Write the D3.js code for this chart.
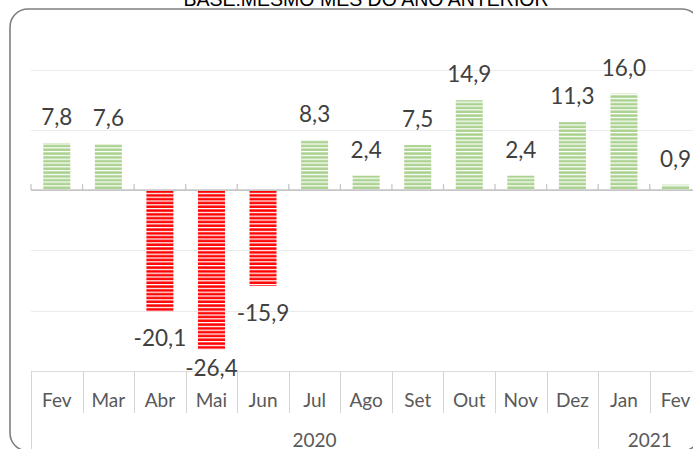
<!DOCTYPE html>
<html>
<head>
<meta charset="utf-8">
<script src="https://cdn.jsdelivr.net/npm/d3@7"></script>
<style>
  html, body { margin: 0; padding: 0; background: #ffffff; overflow: hidden; }
  svg { display: block; }
</style>
</head>
<body>
<svg id="chart" width="693" height="449"></svg>
<script>
// ---- data ----
const titleText = "BASE:MESMO MÊS DO ANO ANTERIOR";
const months = ["Fev", "Mar", "Abr", "Mai", "Jun", "Jul", "Ago", "Set", "Out", "Nov", "Dez", "Jan", "Fev"];
const values = [7.8, 7.6, -20.1, -26.4, -15.9, 8.3, 2.4, 7.5, 14.9, 2.4, 11.3, 16.0, 0.9];
const years = ["2020", "2021"];
const yearSpans = [[0, 10], [11, 12]];
const yTicks = [-30, -20, -10, 0, 10, 20];

// ---- layout ----
const W = 693, H = 449;
const plotLeft = 31, band = 51.56;
const plotRight = plotLeft + band * months.length;
const yTop = 69.5, yBottom = 371;

const svg = d3.select("#chart");
const ids = months.map((m, i) => i);

const x = d3.scaleBand().domain(ids).range([plotLeft, plotRight]).paddingInner(0).paddingOuter(0);
const y = d3.scaleLinear().domain([-30, 20]).range([yBottom, yTop]);

const loc = d3.formatLocale({decimal: ",", thousands: ".", grouping: [3], currency: ["", ""], minus: "-"});
const fmt = loc.format(".1f");

// patterns
const defs = svg.append("defs");
function stripe(id, color) {
  const p = defs.append("pattern").attr("id", id).attr("patternUnits", "userSpaceOnUse")
    .attr("width", 8).attr("height", 3.8);
  p.append("rect").attr("width", 8).attr("height", 3.8).attr("fill", "#ffffff");
  p.append("rect").attr("y", 0.3).attr("width", 8).attr("height", 2.5).attr("fill", color);
}
stripe("pGreen", "#a9d18e");
stripe("pRed", "#ff0000");

// title
svg.append("text").attr("x", 366).attr("y", 6).attr("text-anchor", "middle")
  .attr("font-family", "'Liberation Sans', Arial, sans-serif").attr("font-size", 19.5)
  .attr("fill", "#000000").text(titleText);

// border
svg.append("rect").attr("x", 10).attr("y", 9).attr("width", 690).attr("height", 442)
  .attr("rx", 18).attr("ry", 18).attr("fill", "none").attr("stroke", "#7f7f7f").attr("stroke-width", 1.6);

// gridlines
svg.append("g").selectAll("line").data(yTicks.filter(t => t !== 0)).join("line")
  .attr("x1", plotLeft).attr("x2", plotRight)
  .attr("y1", d => Math.round(y(d)) + 0.5).attr("y2", d => Math.round(y(d)) + 0.5)
  .attr("stroke", d => d === -30 ? "#dcdcdc" : "#ebebeb").attr("stroke-width", 1);

// bars
const bw = band * 0.524;
svg.append("g").selectAll("rect").data(values).join("rect")
  .attr("x", (d, i) => x(i) + (band - bw) / 2)
  .attr("width", bw)
  .attr("y", d => y(Math.max(0, d)))
  .attr("height", d => Math.abs(y(d) - y(0)))
  .attr("fill", d => d < 0 ? "url(#pRed)" : "url(#pGreen)");

// zero axis line & ticks
const y0 = y(0);
svg.append("line").attr("x1", plotLeft).attr("x2", plotRight).attr("y1", y0).attr("y2", y0)
  .attr("stroke", "#c6c6c6").attr("stroke-width", 1.8);
svg.append("g").selectAll("line").data(d3.range(months.length + 1)).join("line")
  .attr("x1", i => plotLeft + i * band).attr("x2", i => plotLeft + i * band)
  .attr("y1", y0 - 6).attr("y2", y0)
  .attr("stroke", "#c6c6c6").attr("stroke-width", 1.3);

// data labels
const minBase = yBottom + 5;
svg.append("g").selectAll("text").data(values).join("text")
  .attr("x", (d, i) => x(i) + band / 2)
  .attr("y", d => d >= 0 ? y(d) - 18 : Math.min(y(d) + 35, minBase))
  .attr("text-anchor", "middle")
  .attr("font-family", "Lato, 'Open Sans', sans-serif").attr("font-size", 22.5)
  .attr("fill", "#404040").text(d => fmt(d));

// category axis (bottom, multi-level)
const axisG = svg.append("g");
const yearBounds = new Set([0, 11, 13]);
axisG.selectAll("line").data(d3.range(months.length + 1)).join("line")
  .attr("x1", i => Math.round(plotLeft + i * band) + 0.5).attr("x2", i => Math.round(plotLeft + i * band) + 0.5)
  .attr("y1", yBottom).attr("y2", i => yearBounds.has(i) ? H + 5 : 413)
  .attr("stroke", "#d4d4d4").attr("stroke-width", 1);

axisG.selectAll("text.m").data(months).join("text").attr("class", "m")
  .attr("x", (d, i) => x(i) + band / 2).attr("y", 407)
  .attr("text-anchor", "middle")
  .attr("font-family", "Lato, 'Open Sans', sans-serif").attr("font-size", 19)
  .attr("fill", "#595959").text(d => d);

axisG.selectAll("text.yr").data(years).join("text").attr("class", "yr")
  .attr("x", (d, i) => (x(yearSpans[i][0]) + x(yearSpans[i][1]) + band) / 2).attr("y", 447)
  .attr("text-anchor", "middle")
  .attr("font-family", "Lato, 'Open Sans', sans-serif").attr("font-size", 19)
  .attr("fill", "#595959").text(d => d);
</script>
</body>
</html>
